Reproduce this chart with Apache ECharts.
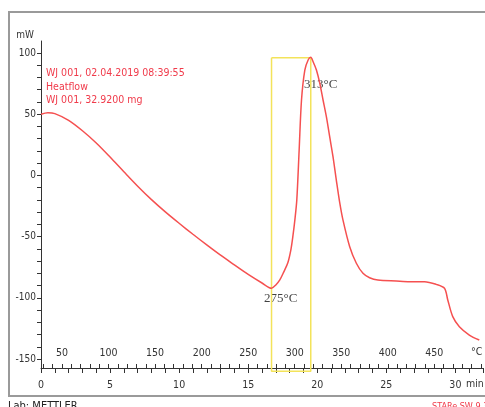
<!DOCTYPE html>
<html>
<head>
<meta charset="utf-8">
<script src="https://cdn.jsdelivr.net/npm/echarts@6/dist/echarts.min.js"></script>
<style>
  html, body { margin: 0; padding: 0; background: #fff; }
  #chart { width: 485px; height: 407px; }
</style>
</head>
<body>
<div id="chart"></div>
<script>
// DSC heat flow curve, time in min / heat flow in mW
var timeMin = [0.0, 0.5, 1.0, 2.0, 3.0, 4.0, 5.0, 6.0, 7.0, 8.0, 9.0, 10.0, 11.0, 12.0, 13.0,
    14.0, 15.0, 16.0, 16.69, 17.00, 17.29, 17.58, 17.87, 18.09, 18.23, 18.38, 18.52, 18.69,
    18.86, 19.10, 19.34, 19.53, 19.70, 19.94, 20.18, 20.42, 20.66, 20.90, 21.14, 21.39, 21.63, 21.86, 22.35,
    22.83, 23.31, 23.79, 24.39, 25.72, 26.68, 27.77, 28.61, 29.21, 29.45, 29.81, 30.29, 31.01, 31.73];
var heatFlow = [50.0, 51.2, 50.5, 45.0, 36.5, 26.5, 15.0, 3.0, -8.8, -19.8, -29.8, -39.1, -48.1, -56.8, -65.2,
    -73.1, -80.9, -87.9, -92.2, -89.5, -85.4, -78.8, -71.4, -60.8, -50.2, -36.3, -20.0, 20.8,
    61.6, 86.1, 94.3, 96.5, 92.9, 86.1, 75.5, 61.6, 48.0, 31.6, 15.3, -4.6, -22.5, -36.4, -58.3,
    -71.8, -80.0, -83.6, -85.5, -86.3, -86.8, -86.8, -89.0, -92.2, -101.8, -115.4, -123.6, -130.4, -134.5];

// axis ticks / labels
var timeLabels = [0, 5, 10, 15, 20, 25, 30];
var tempLabels = [50, 100, 150, 200, 250, 300, 350, 400, 450];
var yLabels = [-150, -100, -50, 0, 50, 100];

// evaluation box and annotations
var boxTimes = [16.69, 19.53];
var boxTop = 96.2;
var boxBottom = -160;
var notes = [
    { text: '313°C', t: 20.25, y: 74 },
    { text: '275°C', t: 17.36, y: -100.8 }
];
var infoLines = ['WJ 001, 02.04.2019 08:39:55', 'Heatflow', 'WJ 001, 32.9200 mg'];

// temperature scale: 27.4 °C at 0 min, 14.84 K/min
var tStart = 27.4, rate = 14.84, tMax = 32;

var timeTicks = [];
for (var i = 0; i <= 32; i++) timeTicks.push(i);
var tempTicks = [];
for (var k = 30; k <= 500; k += 10) tempTicks.push(k);
var yTicks = [];
for (var v = -150; v <= 110; v += 10) yTicks.push(v);

var curve = timeMin.map(function (t, i) { return [t, heatFlow[i]]; });
var box = [[boxTimes[0], boxTop], [boxTimes[1], boxTop], [boxTimes[1], boxBottom],
           [boxTimes[0], boxBottom], [boxTimes[0], boxTop]];

var narrow = "'Liberation Sans Narrow', 'DejaVu Sans Condensed', sans-serif";

var chart = echarts.init(document.getElementById('chart'));
chart.setOption({
    animation: false,
    grid: { left: 41, right: 2, top: 41, bottom: 39 },
    xAxis: [{
        type: 'value', min: 0, max: tMax,
        axisLine: { onZero: false, lineStyle: { color: '#333', width: 1 } },
        axisTick: { customValues: timeTicks, length: 5, lineStyle: { color: '#333' } },
        axisLabel: { customValues: timeLabels, color: '#333', fontSize: 10.5, margin: 12, fontFamily: narrow },
        splitLine: { show: false }
    }, {
        type: 'value', position: 'bottom',
        min: tStart, max: tStart + rate * tMax,
        axisLine: { show: false, onZero: false },
        axisTick: { customValues: tempTicks, inside: true, length: 4, lineStyle: { color: '#333' } },
        axisLabel: { customValues: tempLabels, inside: true, color: '#333', fontSize: 10.5, margin: 9, fontFamily: narrow },
        splitLine: { show: false }
    }],
    yAxis: {
        type: 'value', min: -157.35, max: 109.8,
        name: 'mW', nameLocation: 'end', nameGap: 1,
        nameTextStyle: { color: '#333', fontSize: 10, align: 'right', padding: [0, 7, 0, 0], fontFamily: narrow },
        axisLine: { show: true, lineStyle: { color: '#333', width: 1 } },
        axisTick: { show: true, customValues: yTicks, length: 4, lineStyle: { color: '#333' } },
        axisLabel: { customValues: yLabels, color: '#333', fontSize: 10, margin: 5, fontFamily: narrow },
        splitLine: { show: false }
    },
    series: [{
        type: 'line', data: box, xAxisIndex: 0,
        symbol: 'none', clip: false, silent: true,
        lineStyle: { color: '#f3e35a', width: 1.5 }
    }, {
        type: 'line', data: curve, xAxisIndex: 0,
        symbol: 'none', smooth: 0.3,
        lineStyle: { color: '#f55050', width: 1.5 }
    }, {
        type: 'scatter', xAxisIndex: 0, symbolSize: 0,
        data: notes.map(function (n) { return { value: [n.t, n.y], name: n.text }; }),
        label: {
            show: true, position: 'inside', formatter: '{b}',
            color: '#111', fontSize: 13, fontFamily: "'Liberation Serif', serif"
        }
    }],
    graphic: [
        { type: 'rect', shape: { x: 9, y: 12, width: 500, height: 384 },
          style: { fill: 'none', stroke: '#9a9a9a', lineWidth: 2 }, silent: true },
        { type: 'text', left: 46, top: 67,
          style: { text: infoLines.join('\n'), fill: '#f03a4a', fontSize: 10.5, lineHeight: 13.5, fontFamily: narrow } },
        { type: 'text', left: 471, top: 347, style: { text: '°C', fill: '#333', fontSize: 10.5, fontFamily: narrow } },
        { type: 'text', left: 466, top: 379, style: { text: 'min', fill: '#333', fontSize: 10.5, fontFamily: narrow } },
        { type: 'text', left: 8, top: 401, style: { text: 'Lab: METTLER', fill: '#222', fontSize: 11, fontFamily: narrow } },
        { type: 'text', left: 432, top: 402, style: { text: 'STARe SW 9.30', fill: '#f03a4a', fontSize: 9, fontFamily: narrow } }
    ]
});
</script>
</body>
</html>
